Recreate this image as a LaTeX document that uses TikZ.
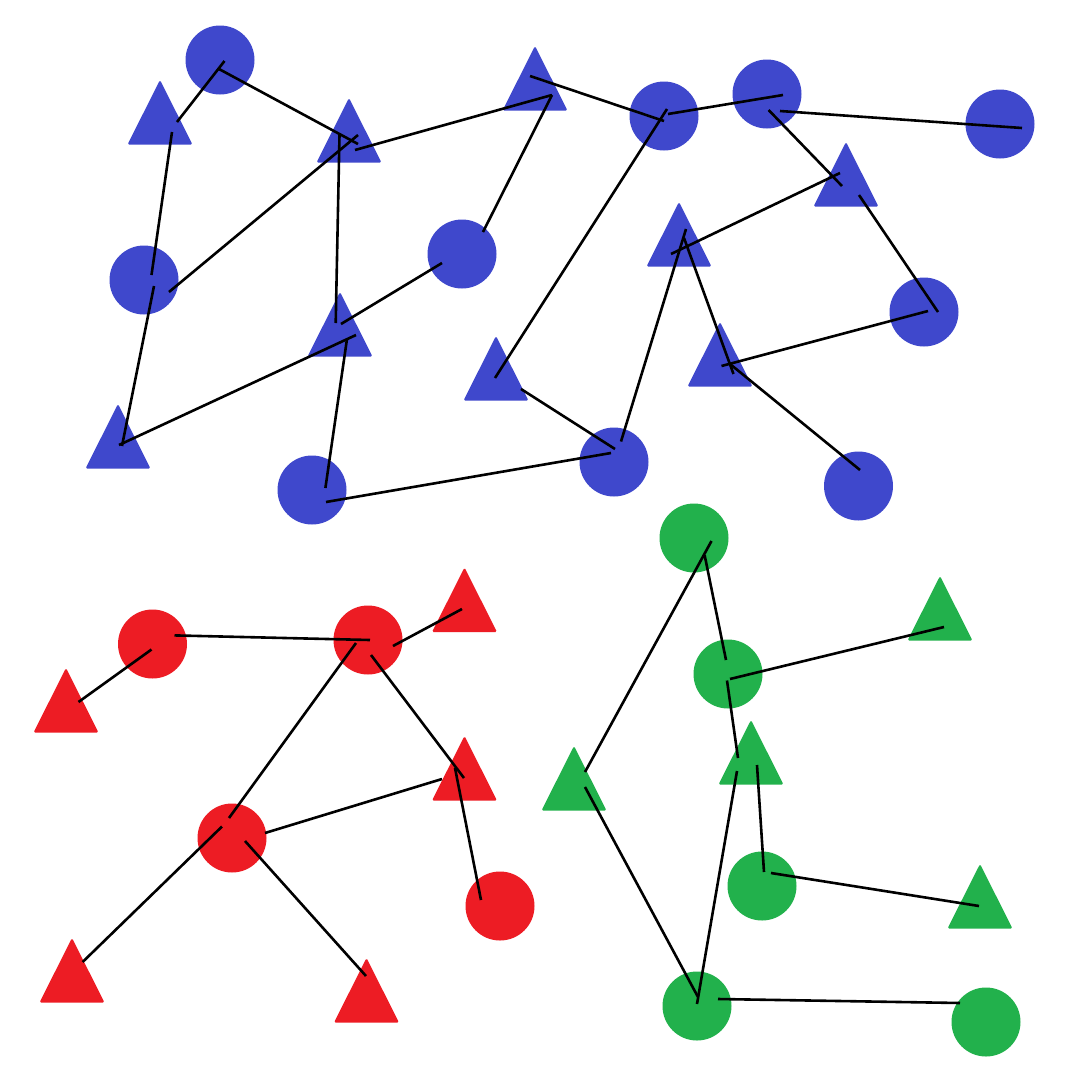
\documentclass[tikz,border=0pt]{standalone}
\definecolor{pblue}{HTML}{3F48CC}
\definecolor{pred}{HTML}{ED1C24}
\definecolor{pgreen}{HTML}{22B14C}
\newcommand\mytri[4]{\fill[trishape,#1] (#2,#3-43) -- ++(32.5,64.5) -- ++(-65,0) -- cycle; \coordinate (#4) at (#2,#3);}
\begin{document}
\begin{tikzpicture}[x=1pt,y=-1pt,
  link/.style={line width=2.6pt,black},
  dot/.style={circle,inner sep=0pt,minimum size=69pt,draw=none},
  trishape/.style={rounded corners=1.5pt},
  bdot/.style={dot,fill=pblue},
  rdot/.style={dot,fill=pred},
  gdot/.style={dot,fill=pgreen}]
\useasboundingbox[fill=white] (0,0) rectangle (1080,1080);
% blue circles
\node[bdot] (C1) at (220,60) {};
\node[bdot] (C2) at (144,280) {};
\node[bdot] (C3) at (462,254) {};
\node[bdot] (C4) at (312,490) {};
\node[bdot] (C5) at (664,116) {};
\node[bdot] (C6) at (767,94) {};
\node[bdot] (C7) at (1000,124) {};
\node[bdot] (C8) at (924,312) {};
\node[bdot] (C9) at (614,462) {};
\node[bdot] (C10) at (858.5,486) {};
% blue triangles
\mytri{pblue}{160}{123}{T1}
\mytri{pblue}{349}{141}{T2}
\mytri{pblue}{340}{335}{T3}
\mytri{pblue}{496}{379}{T4}
\mytri{pblue}{118}{447}{T5}
\mytri{pblue}{535}{89}{T6}
\mytri{pblue}{846}{185}{T7}
\mytri{pblue}{679}{245}{T8}
\mytri{pblue}{720}{365}{T9}
% red
\node[rdot] (R1) at (152.5,644) {};
\node[rdot] (R2) at (368,640) {};
\node[rdot] (R3) at (232,838) {};
\node[rdot] (R4) at (500,906) {};
\mytri{pred}{66}{711}{RT1}
\mytri{pred}{464.5}{610.5}{RT2}
\mytri{pred}{464.5}{779}{RT3}
\mytri{pred}{72}{981}{RT4}
\mytri{pred}{366.5}{1001}{RT5}
% green
\node[gdot] (G1) at (694,538) {};
\node[gdot] (G2) at (728,674) {};
\node[gdot] (G3) at (762,886) {};
\node[gdot] (G4) at (697,1006) {};
\node[gdot] (G5) at (986,1022) {};
\mytri{pgreen}{940}{619}{GT1}
\mytri{pgreen}{751}{763}{GT2}
\mytri{pgreen}{574}{789}{GT3}
\mytri{pgreen}{980}{907}{GT4}
% blue links
\draw[link] ([shift={(4.5,1)}]C1.center) -- ([shift={(17,-1)}]T1.center);
\draw[link] ([shift={(-1,9)}]C1.center) -- ([shift={(9,3)}]T2.center);
\draw[link] ([shift={(6,9)}]T2.center) -- ([shift={(17,6)}]T6.center);
\draw[link] ([shift={(9,-6)}]T2.center) -- ([shift={(25,12)}]C2.center);
\draw[link] ([shift={(-9.5,-6)}]T2.center) -- ([shift={(-4.3,-12)}]T3.center);
\draw[link] ([shift={(12,9)}]T1.center) -- ([shift={(7.5,-5)}]C2.center);
\draw[link] ([shift={(10,6)}]C2.center) -- ([shift={(4,-1)}]T5.center);
\draw[link] ([shift={(-20,9)}]C3.center) -- ([shift={(1,-11)}]T3.center);
\draw[link] ([shift={(16,0)}]T3.center) -- ([shift={(1,-2)}]T5.center);
\draw[link] ([shift={(7,4)}]T3.center) -- ([shift={(13.4,-2)}]C4.center);
\draw[link] ([shift={(14,12)}]C4.center) -- ([shift={(-3,-9)}]C9.center);
\draw[link] ([shift={(-1,-1)}]T4.center) -- ([shift={(3,-7)}]C5.center);
\draw[link] ([shift={(25,10)}]T4.center) -- ([shift={(1,-13)}]C9.center);
\draw[link] ([shift={(21,-22)}]C3.center) -- ([shift={(17,6)}]T6.center);
\draw[link] ([shift={(-5,-13)}]T6.center) -- ([shift={(0,5)}]C5.center);
\draw[link] ([shift={(4,-2)}]C5.center) -- ([shift={(16,1)}]C6.center);
\draw[link] ([shift={(1.6,16)}]C6.center) -- ([shift={(-4,1)}]T7.center);
\draw[link] ([shift={(13,17)}]C6.center) -- ([shift={(22,4)}]C7.center);
\draw[link] ([shift={(-6,-12)}]T7.center) -- ([shift={(-8,9)}]T8.center);
\draw[link] ([shift={(13,10)}]T7.center) -- ([shift={(14,0)}]C8.center);
\draw[link] ([shift={(7,-16)}]T8.center) -- ([shift={(7,-20.5)}]C9.center);
\draw[link] ([shift={(5,-7)}]T8.center) -- ([shift={(13.5,9)}]T9.center);
\draw[link] ([shift={(4,-1)}]C8.center) -- ([shift={(1.5,1)}]T9.center);
\draw[link] ([shift={(10,-1)}]T9.center) -- ([shift={(1.5,-16)}]C10.center);
% red links
\draw[link] ([shift={(22,-8.6)}]R1.center) -- ([shift={(2,0)}]R2.center);
\draw[link] ([shift={(-1,5.5)}]R1.center) -- ([shift={(12.5,-9)}]RT1.center);
\draw[link] ([shift={(-2.5,-1.5)}]RT2.center) -- ([shift={(25,6)}]R2.center);
\draw[link] ([shift={(-12,3)}]R2.center) -- ([shift={(-3,-20)}]R3.center);
\draw[link] ([shift={(3,15)}]R2.center) -- ([shift={(-0.5,-1)}]RT3.center);
\draw[link] ([shift={(-22.5,0)}]RT3.center) -- ([shift={(33,-5)}]R3.center);
\draw[link] ([shift={(-9.5,-11)}]RT3.center) -- ([shift={(-19,-6)}]R4.center);
\draw[link] ([shift={(-10,-11.5)}]R3.center) -- ([shift={(10.6,-19)}]RT4.center);
\draw[link] ([shift={(13,3)}]R3.center) -- ([shift={(-0.5,-25)}]RT5.center);
% green links
\draw[link] ([shift={(17.5,3)}]G1.center) -- ([shift={(11,-17)}]GT3.center);
\draw[link] ([shift={(10.6,17)}]G1.center) -- ([shift={(-2,-14)}]G2.center);
\draw[link] ([shift={(2,5)}]G2.center) -- ([shift={(4,8)}]GT1.center);
\draw[link] ([shift={(-1,6.5)}]G2.center) -- ([shift={(-13,-5)}]GT2.center);
\draw[link] ([shift={(-14,8)}]GT2.center) -- ([shift={(0,-2)}]G4.center);
\draw[link] ([shift={(11,-2)}]GT3.center) -- ([shift={(1,-9)}]G4.center);
\draw[link] ([shift={(6,2)}]GT2.center) -- ([shift={(2,-14)}]G3.center);
\draw[link] ([shift={(9,-13)}]G3.center) -- ([shift={(-1,-1)}]GT4.center);
\draw[link] ([shift={(21,-7)}]G4.center) -- ([shift={(-26,-19)}]G5.center);
\end{tikzpicture}
\end{document}
